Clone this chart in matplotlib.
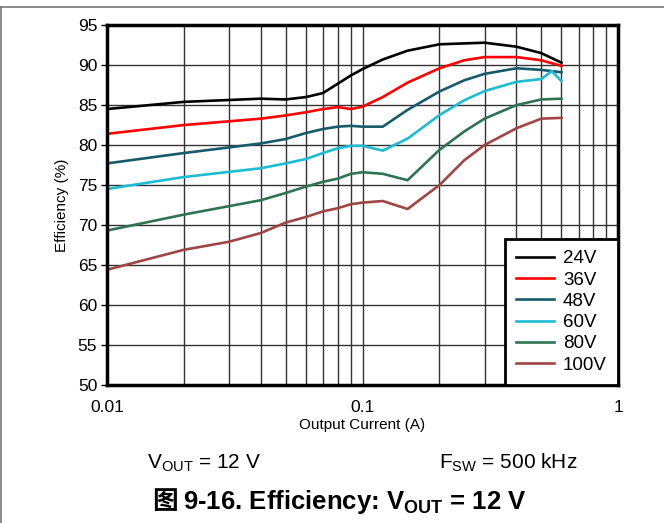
import matplotlib.pyplot as plt
from matplotlib.ticker import FixedLocator, NullFormatter

plt.rcParams['font.family'] = ['Liberation Sans', 'Noto Sans CJK SC', 'DejaVu Sans']
plt.rcParams['mathtext.fontset'] = 'custom'
plt.rcParams['mathtext.rm'] = 'Liberation Sans'
plt.rcParams['mathtext.bf'] = 'Liberation Sans:bold'

# measured data, output current (A) vs efficiency (%)
i_24 = [0.01, 0.02, 0.04, 0.05, 0.06, 0.07, 0.09, 0.1, 0.12, 0.15, 0.2, 0.3, 0.4, 0.5, 0.6]
eff_24 = [84.5, 85.4, 85.8, 85.7, 86.0, 86.5, 88.7, 89.5, 90.7, 91.8, 92.6, 92.8, 92.3, 91.5, 90.3]

i_36 = [0.01, 0.02, 0.04, 0.05, 0.06, 0.07, 0.08, 0.09, 0.1, 0.12, 0.15, 0.2, 0.25, 0.3, 0.4, 0.5, 0.6]
eff_36 = [81.4, 82.5, 83.3, 83.7, 84.1, 84.5, 84.75, 84.5, 84.8, 86.0, 87.8, 89.6, 90.6, 91.0, 91.0, 90.6, 89.9]

i_48 = [0.01, 0.02, 0.04, 0.05, 0.06, 0.07, 0.08, 0.09, 0.1, 0.12, 0.15, 0.2, 0.25, 0.3, 0.4, 0.5, 0.6]
eff_48 = [77.7, 79.0, 80.2, 80.75, 81.5, 82.0, 82.3, 82.4, 82.3, 82.3, 84.4, 86.7, 88.1, 88.9, 89.6, 89.4, 89.1]

i_60 = [0.01, 0.02, 0.04, 0.05, 0.06, 0.07, 0.08, 0.09, 0.1, 0.12, 0.15, 0.2, 0.25, 0.3, 0.4, 0.5, 0.55, 0.6]
eff_60 = [74.5, 76.0, 77.1, 77.7, 78.25, 79.0, 79.6, 79.9, 79.9, 79.3, 80.8, 83.75, 85.6, 86.75, 87.9, 88.25, 89.25, 88.0]

i_80 = [0.01, 0.02, 0.04, 0.05, 0.06, 0.07, 0.08, 0.09, 0.1, 0.12, 0.15, 0.2, 0.25, 0.3, 0.4, 0.5, 0.6]
eff_80 = [69.3, 71.3, 73.1, 74.0, 74.8, 75.4, 75.8, 76.4, 76.6, 76.4, 75.6, 79.4, 81.7, 83.3, 85.0, 85.7, 85.8]

i_100 = [0.01, 0.02, 0.03, 0.04, 0.05, 0.06, 0.07, 0.08, 0.09, 0.1, 0.12, 0.15, 0.2, 0.25, 0.3, 0.4, 0.5, 0.6]
eff_100 = [64.4, 66.9, 67.9, 69.0, 70.3, 71.0, 71.7, 72.1, 72.6, 72.8, 73.0, 72.0, 75.0, 78.1, 80.0, 82.1, 83.3, 83.4]

series = [
    ("24V", i_24, eff_24, "#000000"),
    ("36V", i_36, eff_36, "#ff0000"),
    ("48V", i_48, eff_48, "#165a6c"),
    ("60V", i_60, eff_60, "#1bbcd4"),
    ("80V", i_80, eff_80, "#2e7352"),
    ("100V", i_100, eff_100, "#a04444"),
]

x_ticks = [0.01, 0.1, 1]
x_labels = ["0.01", "0.1", "1"]
y_ticks = list(range(50, 96, 5))

fig = plt.figure(figsize=(6.64, 5.23), dpi=100)
ax = fig.add_axes([0.161, 0.264, 0.77, 0.688])

for name, x, y, c in series:
    ax.plot(x, y, color=c, lw=1.9, label=name)

ax.set_xscale("log")
ax.set_xlim(0.01, 1)
ax.set_ylim(50, 95)
ax.set_xticks(x_ticks)
ax.set_xticklabels(x_labels)
ax.xaxis.set_minor_locator(FixedLocator([k * 0.01 for k in range(2, 10)] + [k * 0.1 for k in range(2, 10)]))
ax.xaxis.set_minor_formatter(NullFormatter())
ax.set_yticks(y_ticks)
ax.grid(True, which="both", color="#333333", lw=1.0)
ax.tick_params(axis="x", which="both", length=0, labelsize=12.5, pad=11)
ax.tick_params(axis="y", length=4, width=1, direction="out", pad=3, labelsize=12.5)
for s in ax.spines.values():
    s.set_linewidth(2.5)

ax.set_xlabel("Output Current (A)", fontsize=11, labelpad=2)
ax.set_ylabel("Efficiency (%)", fontsize=11, labelpad=6)

leg = ax.legend(loc="lower right", fontsize=13.5, frameon=True, fancybox=False,
                borderaxespad=0, handlelength=2.0, handletextpad=0.5,
                labelspacing=0.22, borderpad=0.6)
leg.get_frame().set_edgecolor("black")
leg.get_frame().set_linewidth(2)
leg.get_frame().set_alpha(1)

fig.text(0.307, 0.115, r"V$_{\mathrm{OUT}}$ = 12 V", fontsize=15, ha="center", va="center")
fig.text(0.766, 0.115, r"F$_{\mathrm{SW}}$ = 500 kHz", fontsize=15, ha="center", va="center")

# caption: the CJK glyph is drawn separately since mathtext has no fallback
cap = fig.text(0.535, 0.041, r"9-16. Efficiency: V$_{\mathbf{OUT}}$ = 12 V", fontsize=18.5,
               fontweight="bold", ha="center", va="center")
fig.canvas.draw()
bb = cap.get_window_extent().transformed(fig.transFigure.inverted())
fig.text(bb.x0 - 0.009, 0.041, "图", fontsize=18.5, fontweight="bold",
         family=["Noto Sans CJK SC"], ha="right", va="center")

# outer frame lines (left and top)
fig.add_artist(plt.Line2D([0.001, 0.001], [0.0, 0.986], color="#777777", lw=1.2))
fig.add_artist(plt.Line2D([0.0, 1.0], [0.986, 0.986], color="#777777", lw=1.2))

fig.savefig("out.png", dpi=100)
